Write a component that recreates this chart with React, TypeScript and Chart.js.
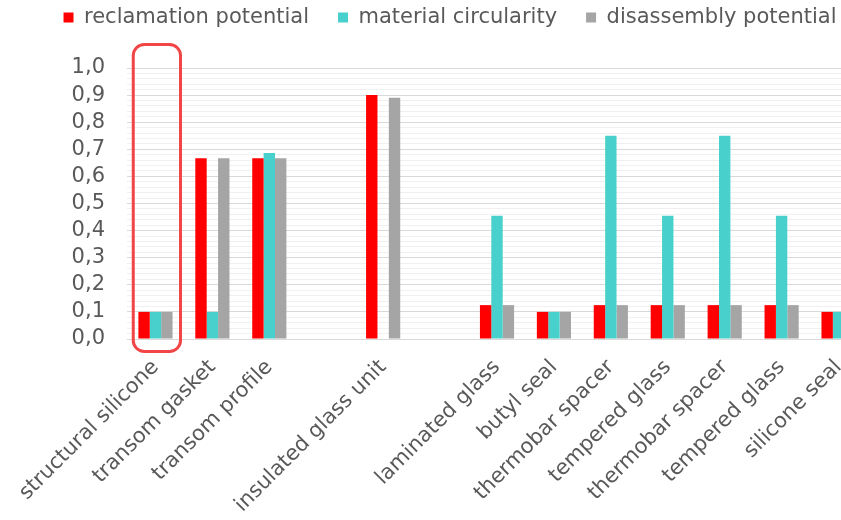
import React, { useEffect, useRef } from 'react';
import { Chart, registerables } from 'chart.js';

Chart.register(...registerables);

const CATEGORIES = [
  'structural silicone',
  'transom gasket',
  'transom profile',
  '',
  'insulated glass unit',
  '',
  'laminated glass',
  'butyl seal',
  'thermobar spacer',
  'tempered glass',
  'thermobar spacer',
  'tempered glass',
  'silicone seal',
];

const SERIES_NAMES = ['reclamation potential', 'material circularity', 'disassembly potential'];

const RECLAMATION = [0.1, 0.667, 0.667, null, 0.9, null, 0.125, 0.1, 0.125, 0.125, 0.125, 0.125, 0.1];
const CIRCULARITY = [0.1, 0.1, 0.686, null, null, null, 0.455, 0.1, 0.75, 0.455, 0.75, 0.455, 0.1];
const DISASSEMBLY = [0.1, 0.667, 0.667, null, 0.89, null, 0.125, 0.1, 0.125, 0.125, 0.125, 0.125, 0.1];

const COLORS = ['#ff0000', '#48d1cc', '#a5a5a5'];

const Y_MIN = 0;
const Y_MAX = 1;
const Y_STEP = 0.02;
const HIGHLIGHT_INDEX = 0;

const FONT_FAMILY = 'DejaVu Sans';
const TEXT_COLOR = '#595959';
const CANVAS_W = 900;
const CANVAS_H = 520;

const isMajor = (v: number) => Math.round(v * 50) % 5 === 0;

const highlightPlugin = {
  id: 'highlightBox',
  afterDraw(chart: any) {
    const xs = chart.scales.x;
    const ys = chart.scales.y;
    const cx = xs.getPixelForValue(HIGHLIGHT_INDEX);
    const catW = xs.getPixelForValue(1) - xs.getPixelForValue(0);
    const left = cx - catW * 0.39;
    const right = cx + catW * 0.44;
    const top = ys.getPixelForValue(Y_MAX) - 23.5;
    const bottom = ys.getPixelForValue(Y_MIN) + 12.5;
    const ctx = chart.ctx;
    ctx.save();
    ctx.strokeStyle = '#f24545';
    ctx.lineWidth = 3;
    ctx.beginPath();
    ctx.roundRect(left, top, right - left, bottom - top, 11);
    ctx.stroke();
    ctx.restore();
  },
};

export default function App() {
  const ref = useRef<HTMLCanvasElement | null>(null);

  useEffect(() => {
    if (!ref.current) return;
    const font = { family: FONT_FAMILY, size: 21 };
    const chart = new Chart(ref.current, {
      type: 'bar',
      data: {
        labels: CATEGORIES,
        datasets: [RECLAMATION, CIRCULARITY, DISASSEMBLY].map((d, i) => ({
          label: SERIES_NAMES[i],
          data: d,
          backgroundColor: COLORS[i],
          borderWidth: 0,
          categoryPercentage: 0.6,
          barPercentage: 1.0,
        })),
      },
      options: {
        responsive: false,
        animation: false,
        devicePixelRatio: 1,
        layout: { padding: { top: -22, left: 33, right: 33, bottom: 0 } },
        plugins: {
          legend: {
            position: 'top',
            labels: {
              boxWidth: 10,
              boxHeight: 10,
              padding: 29,
              color: TEXT_COLOR,
              font,
            },
          },
          title: {
            display: true,
            text: '',
            weight: 500,
            font: { size: 1, lineHeight: 1 },
            padding: { top: 14, bottom: 15 },
          },
          tooltip: { enabled: false },
        },
        scales: {
          x: {
            offset: true,
            grid: { display: false },
            border: { display: false },
            ticks: {
              autoSkip: false,
              minRotation: 45,
              maxRotation: 45,
              color: TEXT_COLOR,
              font,
              padding: 8,
            },
            afterFit: (s: any) => {
              s.height = 181;
            },
          },
          y: {
            min: Y_MIN,
            max: Y_MAX,
            border: { display: false },
            grid: {
              drawTicks: false,
              color: (c: any) => (c.tick && isMajor(c.tick.value) ? '#d9d9d9' : '#f0f0f0'),
              lineWidth: 1,
            },
            ticks: {
              stepSize: Y_STEP,
              autoSkip: false,
              padding: 22,
              color: TEXT_COLOR,
              font,
              callback: (v: any) => (isMajor(Number(v)) ? Number(v).toFixed(1).replace('.', ',') : ''),
            },
            afterFit: (s: any) => {
              s.width = 94;
            },
          },
        },
      },
      plugins: [highlightPlugin],
    } as any);
    return () => chart.destroy();
  }, []);

  return (
    <div
      style={{
        position: 'fixed',
        left: 0,
        top: 0,
        width: 841,
        height: 520,
        overflow: 'hidden',
        background: '#ffffff',
      }}
    >
      <canvas
        ref={ref}
        width={CANVAS_W}
        height={CANVAS_H}
        style={{ display: 'block', width: CANVAS_W, height: CANVAS_H }}
      />
    </div>
  );
}
